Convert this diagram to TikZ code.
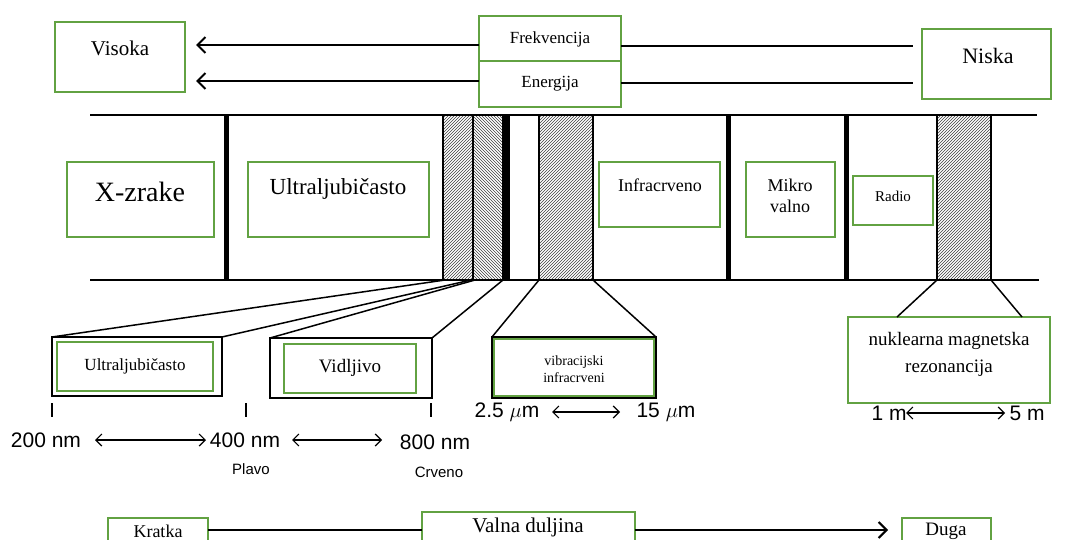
\documentclass[tikz,border=0pt]{standalone}
\usepackage{fontspec}
\setmainfont{Liberation Serif}
\setsansfont{Liberation Sans}
\usetikzlibrary{arrows.meta,patterns}
\definecolor{bgreen}{RGB}{98,162,66}
\newcommand\myfs[1]{\fontsize{#1}{#1}\selectfont}
\begin{document}
\begin{tikzpicture}[x=1pt,y=-1pt,
  gbox/.style={draw=bgreen,line width=2,anchor=north west,inner sep=0,outer sep=0},
  kbox/.style={draw=black,line width=2,anchor=north west,inner sep=0,outer sep=0},
  txt/.style={inner sep=0,align=center},
  arr/.style={line width=1.5,-{Straight Barb[length=8pt,width=16pt,line width=2pt]}},
  dbl/.style={line width=1.2,{Straight Barb[length=6pt,width=12pt]}-{Straight Barb[length=6pt,width=12pt]}},
  band/.style={line width=2.2},
  divider/.style={line width=5},
  fan/.style={line width=1.5},
  hatchne/.style={pattern=north east lines,pattern color=black!75,draw=black,line width=1.2},
  hatchnw/.style={pattern=north west lines,pattern color=black!75,draw=black,line width=1.2}]
\clip (0,0) rectangle (1078,540);
\fill[white] (0,0) rectangle (1078,540);
\useasboundingbox (0,0) rectangle (1078,540);

% ---- top row ----
\node[gbox,minimum width=130,minimum height=70] (vis) at (55,22) {};
\node[txt,font=\myfs{21}] (vis-t) at (120,48) {Visoka};
\node[gbox,minimum width=142,minimum height=45] (fr) at (479,16) {};
\node[txt,font=\myfs{17}] (fr-t) at (550,39) {Frekvencija};
\node[gbox,minimum width=142,minimum height=46] (en) at (479,61) {};
\node[txt,font=\myfs{17}] (en-t) at (550,84) {Energija};
\node[gbox,minimum width=129,minimum height=70] (ni) at (922,29) {};
\node[txt,font=\myfs{22}] (ni-t) at (988,56) {Niska};

\draw[arr,shorten >=11pt] (fr.west |- 0,45) -- (vis.east |- 0,45);
\draw[arr,shorten >=11pt] (en.west |- 0,81) -- (vis.east |- 0,81);
\draw[line width=1.5,shorten >=9pt] (fr.east |- 0,46) -- (ni.west |- 0,46);
\draw[line width=1.5,shorten >=9pt] (en.east |- 0,83) -- (ni.west |- 0,83);

% ---- spectrum band ----
\draw[hatchne] (443,115) rectangle (473,280);
\draw[hatchnw] (473,115) rectangle (503,280);
\fill (503,115) rectangle (510,280);
\draw[hatchne] (539,115) rectangle (593,280);
\draw[hatchne] (937,115) rectangle (991,280);
\draw[band] (90,115) -- (1037,115);
\draw[band] (90,280) -- (1039,280);
\draw[divider] (226,115) -- (226,280);
\draw[divider] (728,115) -- (728,280);
\draw[divider] (846,115) -- (846,280);

\coordinate (h1l) at (445,280);
\coordinate (h1r) at (471,280);
\coordinate (h2l) at (475,280);
\coordinate (h2r) at (503,280);
\coordinate (h3l) at (539,280);
\coordinate (h3r) at (593,280);
\coordinate (h4l) at (937,280);
\coordinate (h4r) at (991,280);

\node[gbox,minimum width=147,minimum height=75] (xz) at (67,162) {};
\node[txt,font=\myfs{28}] (xz-t) at (140,192) {X-zrake};
\node[gbox,minimum width=181,minimum height=75] (uv) at (248,162) {};
\node[txt,font=\myfs{23}] (uv-t) at (338,189) {Ultraljubičasto};
\node[gbox,minimum width=121,minimum height=65] (ir) at (599,162) {};
\node[txt,font=\myfs{18}] (ir-t) at (660,185) {Infracrveno};
\node[gbox,minimum width=89,minimum height=75] (mw) at (746,162) {};
\node[txt,font=\myfs{18},text depth=0pt] (mw-t) at (790,196) {Mikro\\[3pt]valno};
\node[gbox,minimum width=80,minimum height=49] (ra) at (853,176) {};
\node[txt,font=\myfs{15}] (ra-t) at (893,196) {Radio};

% ---- detail boxes ----
\node[kbox,minimum width=170,minimum height=59] (uvo) at (52,337) {};
\node[gbox,minimum width=156,minimum height=49] (uvi) at (57,342) {};
\node[txt,font=\myfs{17}] (uvi-t) at (135,366) {Ultraljubičasto};
\node[kbox,minimum width=162,minimum height=60] (vio) at (270,338) {};
\node[gbox,minimum width=132,minimum height=49] (vii) at (284,344) {};
\node[txt,font=\myfs{19}] (vii-t) at (350,368) {Vidljivo};
\node[kbox,minimum width=164,minimum height=61] (vbo) at (492,337) {};
\node[gbox,minimum width=160,minimum height=57] (vbi) at (494,339) {};
\node[txt,font=\myfs{14}] (vbi-t) at (574,369) {vibracijski\\[3pt]infracrveni};
\node[gbox,minimum width=202,minimum height=86] (nk) at (848,317) {};
\node[txt,font=\myfs{19}] (nk-t) at (949,354) {nuklearna magnetska\\[8pt]rezonancija};

\draw[fan] (uvo.north west) -- (h1l);
\draw[fan] (uvo.north east) -- (h1r);
\draw[fan] (vio.north west) -- (h2l);
\draw[fan] (vio.north east) -- (h2r);
\draw[fan] (vbo.north west) -- (h3l);
\draw[fan] (vbo.north east) -- (h3r);
\draw[fan] (h4l) -- (897,317);
\draw[fan] (h4r) -- (1022,317);

% ---- scales ----
\draw[line width=1.5] (52,403) -- (52,417);
\draw[line width=1.5] (246,403) -- (246,417);
\draw[line width=1.5] (431,403) -- (431,417);
\begin{scope}[font=\sffamily\myfs{21}]
\node[txt] (n200) at (46,440) {200 nm};
\node[txt] (n400) at (245,440) {400 nm};
\node[txt] (n800) at (435,442) {800 nm};
\node[txt] (u25) at (507,412) {2.5 $\mu$m};
\node[txt] (u15) at (666,412) {15 $\mu$m};
\node[txt] (m1) at (889,413) {1 m};
\node[txt] (m5) at (1027,413) {5 m};
\end{scope}
\draw[dbl] (95,440) -- (206,440);
\draw[dbl] (292,440) -- (382,440);
\draw[dbl] (552,412) -- (620,412);
\draw[dbl] (906,413) -- (1005,413);
\node[txt,font=\sffamily\myfs{15}] (pl) at (251,469) {Plavo};
\node[txt,font=\sffamily\myfs{15}] (cr) at (439,472) {Crveno};

% ---- bottom row ----
\node[gbox,minimum width=100,minimum height=40] (kr) at (108,518) {};
\node[txt,font=\myfs{18}] (kr-t) at (158,531) {Kratka};
\node[gbox,minimum width=213,minimum height=45] (vd) at (422,512) {};
\node[txt,font=\myfs{21}] (vd-t) at (528,527) {Valna duljina};
\node[gbox,minimum width=89,minimum height=40] (dg) at (902,518) {};
\node[txt,font=\myfs{19}] (dg-t) at (946,531) {Duga};
\draw[line width=1.5] (kr.east |- 0,530) -- (vd.west |- 0,530);
\draw[arr,shorten >=14pt] (vd.east |- 0,530) -- (dg.west |- 0,530);
\end{tikzpicture}
\end{document}
